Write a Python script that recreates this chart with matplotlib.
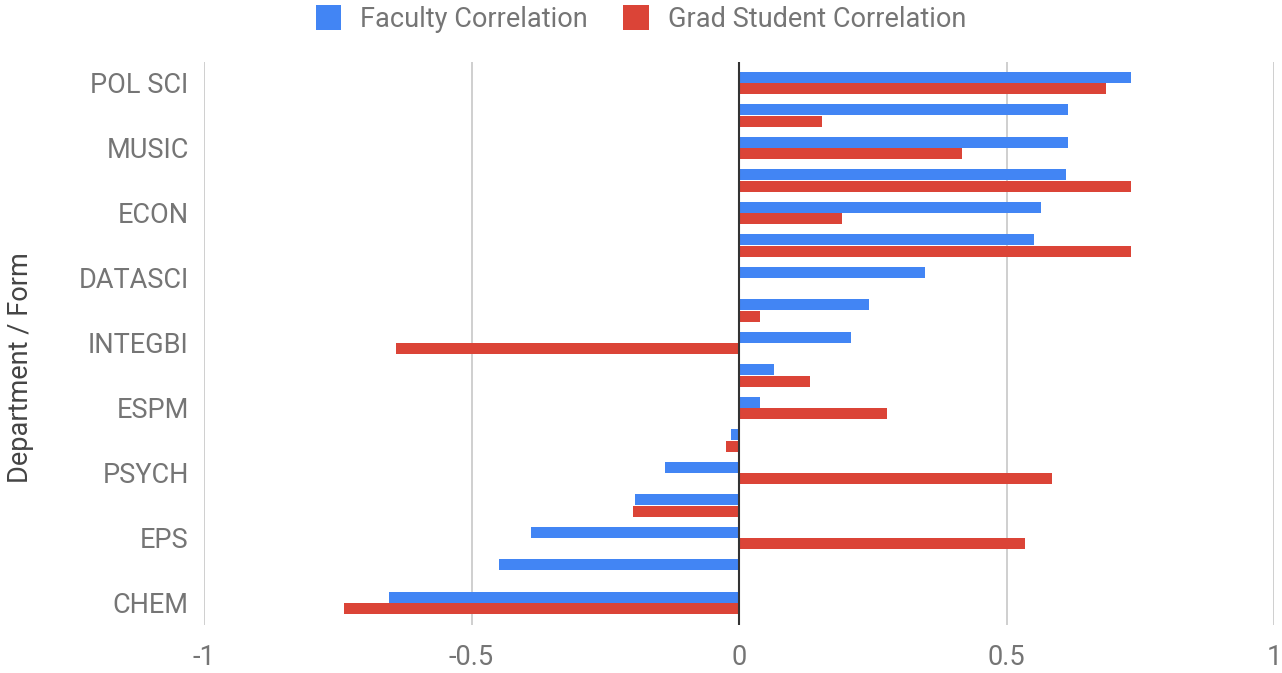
import matplotlib
matplotlib.use("Agg")
import matplotlib.pyplot as plt
import numpy as np

categories = ["POL SCI", "", "MUSIC", "", "ECON", "", "DATASCI", "", "INTEGBI", "",
              "ESPM", "", "PSYCH", "", "EPS", "", "CHEM"]
faculty = [0.733, 0.615, 0.615, 0.611, 0.564, 0.551, 0.348, 0.243, 0.209, 0.065,
           0.039, -0.015, -0.138, -0.194, -0.389, -0.449, -0.654]
grad = [0.686, 0.155, 0.417, 0.733, 0.193, 0.733, np.nan, 0.039, -0.641, 0.133,
        0.277, -0.024, 0.585, -0.198, 0.535, np.nan, -0.738]
xticks = [-1, -0.5, 0, 0.5, 1]
xticklabels = ["-1", "-0.5", "0", "0.5", "1"]

plt.rcParams['font.family'] = ['Roboto', 'DejaVu Sans']

fig = plt.figure(figsize=(12.82, 6.73), dpi=100)
ax = fig.add_axes([204/1282, 1 - 625/673, (1274-204)/1282, (625-62)/673])

n = len(categories)
y = np.arange(n)
h = 0.33
off = 0.18
ax.barh(y - off, faculty, height=h, color="#4285F4", label="Faculty Correlation", zorder=3)
ax.barh(y + off, grad, height=h, color="#DB4437", label="Grad Student Correlation", zorder=3)

ax.set_ylim(16.677, -0.646)
ax.set_xlim(-1, 1)
ax.set_xticks(xticks)
ax.set_xticklabels(xticklabels)
ax.set_yticks(y[::2])
ax.set_yticklabels(categories[::2])
ax.tick_params(axis='both', length=0, labelsize=19.5, colors="#757575")
ax.tick_params(axis='y', pad=11)
ax.tick_params(axis='x', pad=14)
for s in ax.spines.values():
    s.set_visible(False)
for xv in xticks:
    if xv != 0:
        ax.axvline(xv, color="#CCCCCC", lw=1.3, zorder=1)
ax.axvline(0, color="#333333", lw=1.5, zorder=4)

ax.set_ylabel("Department / Form", fontsize=19.5, color="#444444")
ax.yaxis.set_label_coords(-0.159, 0.458)

leg = fig.legend(loc="center", bbox_to_anchor=(0.5, 1 - 19/673), ncol=2, frameon=False,
                 fontsize=19.5, labelcolor="#757575", handlelength=0.95, handleheight=1.0,
                 columnspacing=1.3, handletextpad=0.7, borderaxespad=0.0)

fig.savefig("out.png", dpi=100)
